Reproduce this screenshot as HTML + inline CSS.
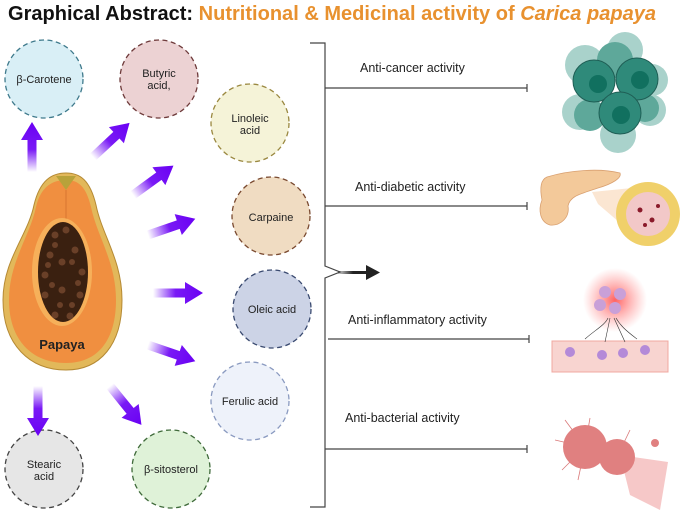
<!DOCTYPE html>
<html><head><meta charset="utf-8"><style>
html,body{margin:0;padding:0;background:#fff;}
svg{display:block;font-family:"Liberation Sans",sans-serif;}
</style></head><body>
<svg width="685" height="516" viewBox="0 0 685 516" xmlns="http://www.w3.org/2000/svg">
<defs>
<linearGradient id="ag" x1="0" y1="0" x2="1" y2="0">
<stop offset="0" stop-color="#6a00f4" stop-opacity="0"/>
<stop offset="0.45" stop-color="#6a00f4" stop-opacity="0.9"/>
<stop offset="1" stop-color="#6a00f4"/>
</linearGradient>
<linearGradient id="bg2" x1="0" y1="0" x2="1" y2="0">
<stop offset="0" stop-color="#222" stop-opacity="0.2"/>
<stop offset="0.5" stop-color="#222"/>
</linearGradient>
<radialGradient id="glow"><stop offset="0" stop-color="#ff3b3b" stop-opacity="0.8"/><stop offset="1" stop-color="#ff6b6b" stop-opacity="0"/></radialGradient>
<g id="arr"><polygon points="0,-4.5 32,-4.5 32,-11 50,0 32,11 32,4.5 0,4.5" fill="url(#ag)"/></g>
</defs>

<text x="8" y="20" font-size="20.5" font-weight="bold" fill="#111" textLength="648" lengthAdjust="spacingAndGlyphs">Graphical Abstract: <tspan fill="#e8912f">Nutritional &amp; Medicinal activity of <tspan font-style="italic">Carica papaya</tspan></tspan></text>

<g stroke-width="1.3" stroke-dasharray="5,3.5">
<circle cx="44" cy="79" r="39" fill="#d9eff6" stroke="#3f7a8c"/>
<circle cx="159" cy="79" r="39" fill="#ecd2d3" stroke="#6e3a3a"/>
<circle cx="250" cy="123" r="39" fill="#f5f3d8" stroke="#9a8840"/>
<circle cx="271" cy="216" r="39" fill="#f0dcc2" stroke="#7a4a30"/>
<circle cx="272" cy="309" r="39" fill="#ccd3e6" stroke="#3a4a70"/>
<circle cx="250" cy="401" r="39" fill="#eef2fa" stroke="#8a9ac0"/>
<circle cx="171" cy="469" r="39" fill="#dff2d8" stroke="#3f6a3a"/>
<circle cx="44" cy="469" r="39" fill="#e6e6e6" stroke="#444"/>
</g>
<g font-size="11" fill="#222" text-anchor="middle">
<text x="44" y="83">β-Carotene</text>
<text x="159" y="77">Butyric</text><text x="159" y="89">acid,</text>
<text x="250" y="122">Linoleic</text><text x="250" y="134">acid</text>
<text x="271" y="221">Carpaine</text>
<text x="272" y="313">Oleic acid</text>
<text x="250" y="405">Ferulic acid</text>
<text x="171" y="473">β-sitosterol</text>
<text x="44" y="468">Stearic</text><text x="44" y="480">acid</text>
</g>

<use href="#arr" transform="translate(32,172) rotate(-90)"/>
<use href="#arr" transform="translate(93,157) rotate(-43)"/>
<use href="#arr" transform="translate(133,195) rotate(-36)"/>
<use href="#arr" transform="translate(148,235) rotate(-19)"/>
<use href="#arr" transform="translate(153,293)"/>
<use href="#arr" transform="translate(148,345) rotate(19)"/>
<use href="#arr" transform="translate(110,386) rotate(51)"/>
<use href="#arr" transform="translate(38,386) rotate(90)"/>

<path d="M66,173 C80,173 90,180 96,205 C102,235 122,260 122,300 C122,345 100,370 66,370 C30,370 3,345 3,300 C3,260 28,235 34,205 C40,180 52,173 66,173Z" fill="#e2b85a" stroke="#b58a35"/>
<path d="M66,180 C78,180 86,186 91,207 C97,236 116,262 116,300 C116,340 98,363 66,363 C32,363 9,340 9,300 C9,262 30,236 36,207 C41,186 53,180 66,180Z" fill="#f08f40"/>
<path d="M56,176 L76,176 L66,190Z" fill="#b8a23a"/>
<line x1="66" y1="190" x2="66" y2="225" stroke="#d97530" stroke-width="1"/>
<ellipse cx="62" cy="272" rx="30" ry="54" fill="#f6b05a"/>
<ellipse cx="63" cy="272" rx="25" ry="50" fill="#3a2010"/>
<g fill="#6a4028">
<circle cx="55" cy="235" r="3.5"/><circle cx="66" cy="230" r="3.5"/><circle cx="50" cy="255" r="3.5"/><circle cx="75" cy="250" r="3.5"/><circle cx="45" cy="275" r="3.5"/><circle cx="82" cy="272" r="3.5"/><circle cx="45" cy="295" r="3.5"/><circle cx="80" cy="295" r="3.5"/><circle cx="55" cy="315" r="3.5"/><circle cx="70" cy="316" r="3.5"/><circle cx="62" cy="262" r="3.5"/><circle cx="62" cy="290" r="3.5"/><circle cx="55" cy="245" r="3"/><circle cx="72" cy="262" r="3"/><circle cx="52" cy="285" r="3"/><circle cx="72" cy="305" r="3"/><circle cx="60" cy="305" r="3"/><circle cx="78" cy="283" r="3"/><circle cx="48" cy="265" r="3"/>
</g>
<text x="62" y="349" font-size="13" font-weight="bold" fill="#222" text-anchor="middle">Papaya</text>

<g stroke="#444" stroke-width="1.2" fill="none">
<polyline points="310,43 325,43 325,266 340,272 325,278 325,507 310,507"/>
<line x1="325" y1="88" x2="527" y2="88"/><line x1="527" y1="84" x2="527" y2="92"/>
<line x1="325" y1="206" x2="527" y2="206"/><line x1="527" y1="202" x2="527" y2="210"/>
<line x1="328" y1="339" x2="529" y2="339"/><line x1="529" y1="335" x2="529" y2="343"/>
<line x1="325" y1="449" x2="527" y2="449"/><line x1="527" y1="445" x2="527" y2="453"/>
</g>
<rect x="338" y="271" width="30" height="3" fill="url(#bg2)"/>
<polygon points="366,265 380,272.5 366,280" fill="#222"/>
<g font-size="12.5" fill="#222">
<text x="360" y="72">Anti-cancer activity</text>
<text x="355" y="191">Anti-diabetic activity</text>
<text x="348" y="324">Anti-inflammatory activity</text>
<text x="345" y="422">Anti-bacterial activity</text>
</g>

<g fill="#a9d2cb">
<circle cx="585" cy="65" r="20"/><circle cx="625" cy="50" r="18"/><circle cx="652" cy="80" r="16"/><circle cx="580" cy="112" r="18"/><circle cx="650" cy="110" r="16"/><circle cx="618" cy="135" r="18"/>
</g>
<g fill="#5ea89a"><circle cx="615" cy="60" r="18"/><circle cx="590" cy="115" r="16"/><circle cx="645" cy="108" r="14"/></g>
<g fill="#2f8a7a" stroke="#1f5e55" stroke-width="1">
<circle cx="594" cy="81" r="21"/><circle cx="637" cy="79" r="21"/><circle cx="620" cy="113" r="21"/>
</g>
<g fill="#11705f"><circle cx="598" cy="84" r="9"/><circle cx="640" cy="80" r="9"/><circle cx="621" cy="115" r="9"/></g>

<path d="M547,177 C570,170 600,168 620,173 C622,178 612,184 598,188 C580,194 570,196 568,206 C570,218 560,226 550,225 C540,222 538,210 542,200 C540,190 540,180 547,177Z" fill="#f3c99a" stroke="#d9a070" stroke-width="0.8"/>
<polygon points="592,192 632,188 640,240 598,204" fill="#fbe6d2"/>
<circle cx="648" cy="214" r="32" fill="#f0d06a"/>
<circle cx="648" cy="214" r="22" fill="#f2c8c8"/>
<g fill="#8a1a2a"><circle cx="640" cy="210" r="2.5"/><circle cx="652" cy="220" r="2.5"/><circle cx="645" cy="225" r="2"/><circle cx="658" cy="206" r="2"/></g>

<circle cx="615" cy="300" r="32" fill="url(#glow)"/>
<g fill="#c9a0d8"><circle cx="605" cy="292" r="6"/><circle cx="620" cy="294" r="6"/><circle cx="600" cy="305" r="6"/><circle cx="615" cy="308" r="6"/></g>
<rect x="552" y="341" width="116" height="31" fill="#f8d4d0" stroke="#f0a8a0"/>
<g fill="#b48ad8"><circle cx="570" cy="352" r="5"/><circle cx="602" cy="355" r="5"/><circle cx="623" cy="353" r="5"/><circle cx="645" cy="350" r="5"/></g>
<g stroke="#333" stroke-width="0.6" fill="none"><path d="M585,339 C595,330 605,325 608,318"/><path d="M605,342 L610,318"/><path d="M625,342 L614,318"/><path d="M637,339 C625,330 620,325 616,318"/></g>

<g stroke="#d97878" stroke-width="0.8"><line x1="585" y1="447" x2="565" y2="420"/><line x1="585" y1="447" x2="555" y2="440"/><line x1="585" y1="447" x2="562" y2="470"/><line x1="585" y1="447" x2="590" y2="418"/><line x1="585" y1="447" x2="578" y2="480"/><line x1="617" y1="457" x2="630" y2="430"/></g>
<polygon points="620,455 668,462 660,510 630,495" fill="#f6c8c8"/>
<circle cx="585" cy="447" r="22" fill="#e08080"/>
<circle cx="617" cy="457" r="18" fill="#e08080"/>
<circle cx="655" cy="443" r="4" fill="#e08080"/>
</svg>
</body></html>
